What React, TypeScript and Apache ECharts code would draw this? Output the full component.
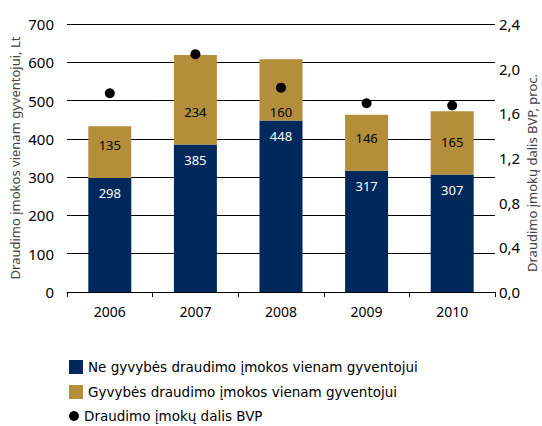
import React, { useEffect, useRef } from "react";
import * as echarts from "echarts";

const years = ["2006", "2007", "2008", "2009", "2010"];
const nonLife = [298, 385, 448, 317, 307];
const life = [135, 234, 160, 146, 165];
const shareGdp = [1.78, 2.13, 1.83, 1.69, 1.67];
const leftTicks = { min: 0, max: 700, interval: 100 };
const rightTicks = { min: 0, max: 2.4, interval: 0.4 };
const seriesNames = [
  "Ne gyvybės draudimo įmokos vienam gyventojui",
  "Gyvybės draudimo įmokos vienam gyventojui",
  "Draudimo įmokų dalis BVP",
];

const NAVY = "#00285A";
const GOLD = "#B58E3B";
const FONT = "Noto Sans";

export default function App() {
  const ref = useRef<HTMLDivElement>(null);
  useEffect(() => {
    document.body.style.margin = "0";
    document.body.style.overflow = "hidden";
    const chart = echarts.init(ref.current!, null, { renderer: "svg" });
    const legendBase = {
      left: 69,
      itemWidth: 14,
      itemHeight: 14,
      itemGap: 10,
      padding: 0,
      textStyle: { fontFamily: "DejaVu Sans", fontSize: 13.5, color: "#000" },
    };
    chart.setOption({
      animation: false,
      backgroundColor: "#ffffff",
      grid: { left: 67, right: 47, top: 24, bottom: 134, outerBoundsMode: "none", containLabel: false },
      legend: [
        { ...legendBase, top: 360, data: [{ name: seriesNames[0], icon: "rect" }] },
        { ...legendBase, top: 385, data: [{ name: seriesNames[1], icon: "rect" }] },
        { ...legendBase, top: 409, itemWidth: 10, itemHeight: 10, data: [{ name: seriesNames[2], icon: "circle" }] },
      ],
      xAxis: {
        type: "category",
        data: years,
        axisLine: { lineStyle: { color: "#000", width: 1 } },
        axisTick: { show: true, length: 5, lineStyle: { color: "#000" } },
        axisLabel: { fontFamily: FONT, fontSize: 14, color: "#000", margin: 12 },
      },
      yAxis: [
        {
          type: "value",
          ...leftTicks,
          name: "Draudimo įmokos vienam gyventojui, Lt",
          nameLocation: "middle",
          nameRotate: 90,
          nameGap: 46,
          nameMoveOverlap: false,
          nameTextStyle: { fontFamily: FONT, fontSize: 13, color: "#444" },
          axisLine: { show: false },
          axisTick: { show: false },
          axisLabel: { fontFamily: FONT, fontSize: 15, color: "#000", margin: 13 },
          splitLine: { lineStyle: { color: "#000", width: 1 } },
        },
        {
          type: "value",
          ...rightTicks,
          name: "Draudimo įmokų dalis BVP, proc.",
          nameLocation: "middle",
          nameRotate: 90,
          nameGap: 30,
          nameMoveOverlap: false,
          nameTextStyle: { fontFamily: FONT, fontSize: 13, color: "#444", padding: [0, 30, 0, 0] },
          axisLine: { show: false },
          axisTick: { show: false },
          splitLine: { show: false },
          axisLabel: {
            fontFamily: FONT,
            fontSize: 15,
            color: "#000",
            margin: 4,
            formatter: (v: number) => v.toFixed(1).replace(".", ","),
          },
        },
      ],
      series: [
        {
          name: seriesNames[0],
          type: "bar",
          stack: "a",
          data: nonLife,
          barWidth: 43,
          itemStyle: { color: NAVY },
          label: {
            show: true,
            position: "insideTop",
            distance: 9,
            color: "#fff",
            fontFamily: FONT,
            fontSize: 13,
          },
        },
        {
          name: seriesNames[1],
          type: "bar",
          stack: "a",
          data: life.map((v, i) => (i === 2 ? { value: v, label: { distance: 2 } } : v)),
          barWidth: 43,
          itemStyle: { color: GOLD },
          label: {
            show: true,
            position: "insideBottom",
            distance: 26,
            color: "#000",
            fontFamily: FONT,
            fontSize: 13,
          },
        },
        {
          name: seriesNames[2],
          type: "scatter",
          yAxisIndex: 1,
          data: shareGdp,
          symbol: "circle",
          symbolSize: 10,
          itemStyle: { color: "#000", opacity: 1 },
        },
      ],
    });
    return () => chart.dispose();
  }, []);
  return <div ref={ref} style={{ width: 542, height: 426 }} />;
}
